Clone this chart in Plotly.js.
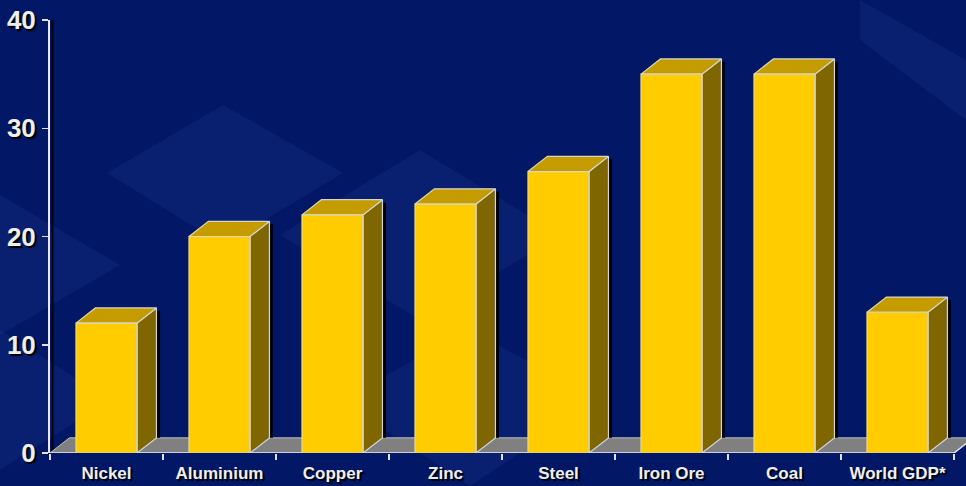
<!DOCTYPE html>
<html>
<head>
<meta charset="utf-8">
<script src="https://cdn.plot.ly/plotly-3.0.1.min.js"></script>
<style>html,body{margin:0;padding:0;background:#021866;}#chart{width:966px;height:486px;}</style>
</head>
<body>
<div id="chart"></div>
<script>
// ---- data ----
const categories = ["Nickel", "Aluminium", "Copper", "Zinc", "Steel", "Iron Ore", "Coal", "World GDP*"];
const values = [12, 20, 22, 23, 26, 35, 35, 13];
const yTicks = [0, 10, 20, 30, 40];

// ---- 3D geometry (data units) ----
const barW = 0.54;     // front face width
const dx = 0.172;      // depth offset in x
const dy = 1.40;       // depth offset in y
const n = categories.length;
const xMin = -0.5, xMax = n - 0.5;

const fx = [], fy = [], tx = [], ty = [], sx = [], sy = [], shx = [], shy = [];
values.forEach((v, i) => {
  const x0 = i - barW / 2, x1 = i + barW / 2;
  fx.push(x0, x1, x1, x0, x0, null); fy.push(0, 0, v, v, 0, null);
  tx.push(x0, x1, x1 + dx, x0 + dx, x0, null); ty.push(v, v, v + dy, v + dy, v, null);
  sx.push(x1, x1 + dx, x1 + dx, x1, x1, null); sy.push(0, dy, v + dy, v, 0, null);
  const s0 = x1 + dx, s1 = x1 + dx + 0.032;
  shx.push(s0, s1, s1, s0, s0, null); shy.push(dy, dy, v + dy - 0.25, v + dy - 0.25, dy, null);
});

const edge = '#d6d6cc';
const traces = [
  { x: [xMin, xMax, xMax + dx, xMin + dx, xMin], y: [0, 0, dy, dy, 0], type: 'scatter', mode: 'lines',
    fill: 'toself', fillcolor: '#808080', line: { color: '#bdbdbd', width: 1 }, hoverinfo: 'skip' },
  { x: [xMin, xMax, xMax + dx], y: [0, 0, dy], type: 'scatter', mode: 'lines',
    line: { color: '#e0e0e0', width: 1.5 }, hoverinfo: 'skip' },
  { x: shx, y: shy, type: 'scatter', mode: 'lines', fill: 'toself', fillcolor: '#000000',
    line: { width: 0, color: '#000000' }, hoverinfo: 'skip' },
  { x: sx, y: sy, type: 'scatter', mode: 'lines', fill: 'toself', fillcolor: '#7f6600',
    line: { color: edge, width: 1.2 }, hoverinfo: 'skip' },
  { x: tx, y: ty, type: 'scatter', mode: 'lines', fill: 'toself', fillcolor: '#c49c00',
    line: { color: edge, width: 1.2 }, hoverinfo: 'skip' },
  { x: fx, y: fy, type: 'scatter', mode: 'lines', fill: 'toself', fillcolor: '#ffcc00',
    line: { color: edge, width: 1.2 }, hoverinfo: 'skip' }
];

// decorative faint background diamonds
const dcol = 'rgba(30,55,140,0.28)';
const bgShapes = [
  [[223,105],[343,173],[223,245],[107,173]],
  [[0,195],[120,265],[0,335]],
  [[0,330],[110,400],[0,470]],
  [[420,150],[560,235],[420,320],[280,235]],
  [[860,0],[966,60],[966,120],[860,40]],
  [[470,330],[600,400],[470,486],[340,400]]
].map(p => ({
  type: 'path', xref: 'paper', yref: 'paper', layer: 'below',
  path: 'M' + p.map(q => ((q[0] - 50) / 916).toFixed(4) + ',' + (1 - (q[1] - 20) / 433).toFixed(4)).join('L') + 'Z',
  fillcolor: dcol, line: { width: 0 }
}));

const layout = {
  width: 966, height: 486,
  margin: { l: 50, r: 0, t: 20, b: 33 },
  paper_bgcolor: '#021866', plot_bgcolor: 'rgba(0,0,0,0)',
  showlegend: false,
  font: { family: 'Liberation Sans, Arial, sans-serif', color: '#eeeeee' },
  xaxis: {
    range: [xMin, xMin + 916 / 113], showgrid: false, zeroline: false, showline: false,
    tickmode: 'array', tickvals: categories.map((c, i) => i), ticktext: categories,
    ticks: '', ticklabelstandoff: 8,
    tickfont: { size: 17, color: '#eeeeee', weight: 'bold', shadow: '2px 2px 1px #000' },
    minor: { tickmode: 'array', tickvals: categories.map((c, i) => i - 0.5).concat([xMax]),
      ticks: 'outside', ticklen: 6, tickwidth: 1.5, tickcolor: '#e0e0e0', showgrid: false },
    fixedrange: true
  },
  yaxis: {
    range: [0, 40], tickmode: 'array', tickvals: yTicks, ticktext: yTicks.map(String),
    showgrid: false, zeroline: false, showline: true, linecolor: '#e8e8e8', linewidth: 2,
    ticks: 'outside', ticklen: 6, tickwidth: 1.5, tickcolor: '#e0e0e0', ticklabelstandoff: 1,
    tickfont: { size: 26, color: '#eeeeee', weight: 'bold', shadow: '2px 2px 1px #000' },
    fixedrange: true
  },
  shapes: bgShapes.concat([
    { type: 'line', xref: 'paper', yref: 'paper', xsizemode: 'pixel', xanchor: 0, x0: 2.5, x1: 2.5,
      y0: 0, y1: 1, line: { color: '#000000', width: 2 }, layer: 'below' }
  ])
};

Plotly.newPlot('chart', traces, layout, { displayModeBar: false, staticPlot: true });
</script>
</body>
</html>
